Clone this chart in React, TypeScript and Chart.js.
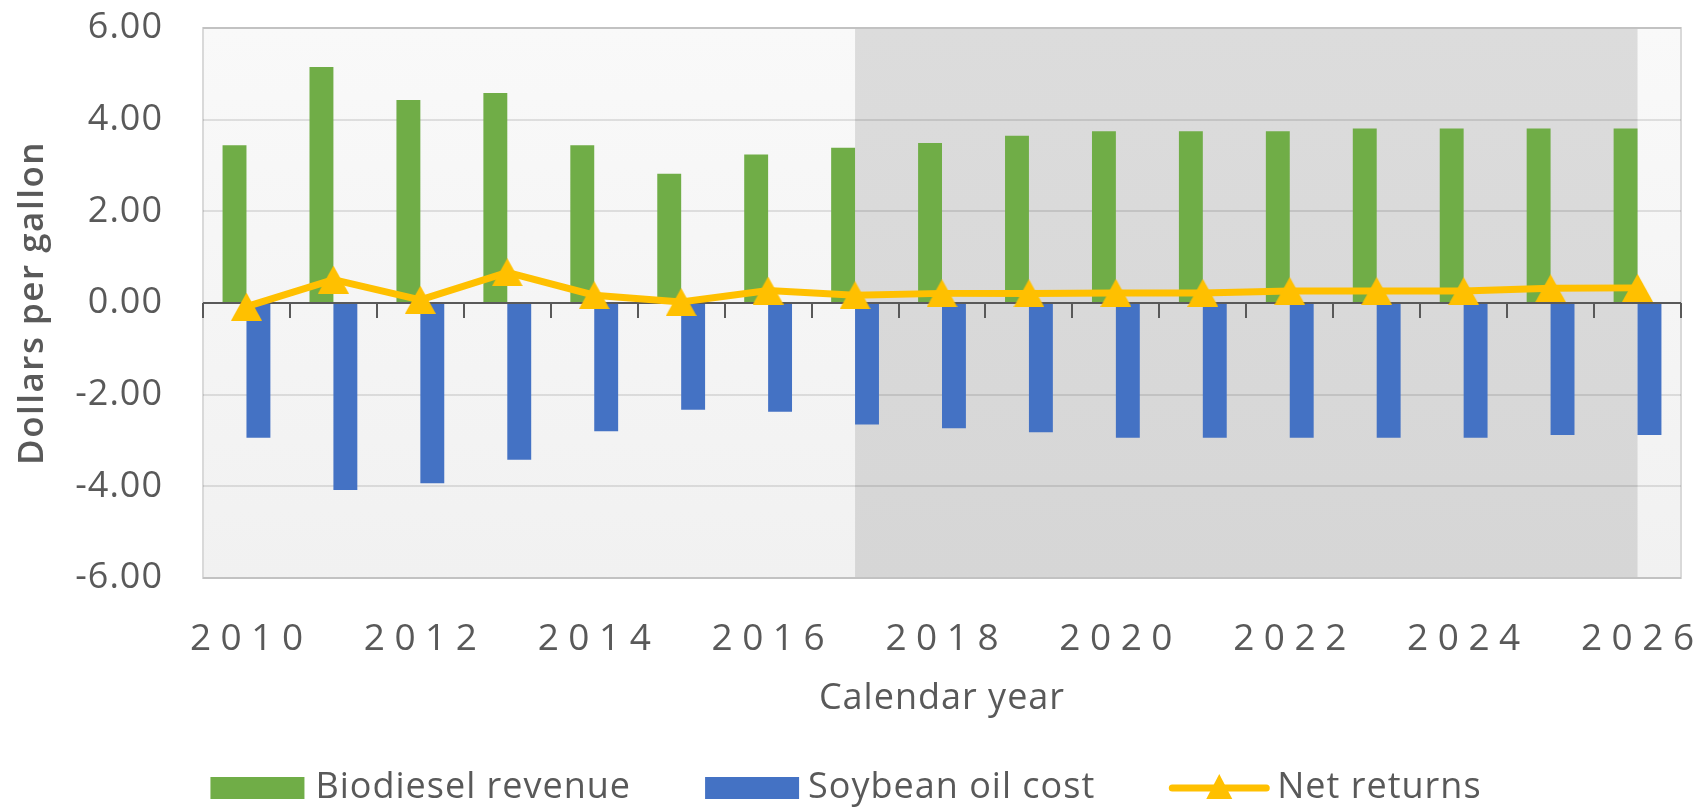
import React, { useEffect, useRef } from "react";
import { Chart, registerables } from "chart.js";

Chart.register(...registerables);

// ---------- data ----------
const years = [
  "2010", "2011", "2012", "2013", "2014", "2015", "2016", "2017", "2018",
  "2019", "2020", "2021", "2022", "2023", "2024", "2025", "2026",
];
const biodieselRevenue = [
  3.44, 5.15, 4.43, 4.58, 3.44, 2.82, 3.24, 3.39, 3.49,
  3.65, 3.75, 3.75, 3.75, 3.81, 3.81, 3.81, 3.81,
];
const soybeanOilCost = [
  -2.94, -4.08, -3.93, -3.42, -2.8, -2.33, -2.37, -2.65, -2.73,
  -2.82, -2.94, -2.94, -2.94, -2.94, -2.94, -2.88, -2.88,
];
const netReturns = [
  -0.08, 0.51, 0.07, 0.67, 0.17, 0.02, 0.27, 0.17, 0.21,
  0.21, 0.22, 0.22, 0.26, 0.26, 0.26, 0.32, 0.33,
];
const xTickLabels = ["2010", "2012", "2014", "2016", "2018", "2020", "2022", "2024", "2026"];
const yMin = -6;
const yMax = 6;
const yStep = 2;
const forecastStart = "2017";
const forecastEnd = "2026";
const seriesNames = ["Biodiesel revenue", "Soybean oil cost", "Net returns"];
const xTitle = "Calendar year";
const yTitle = "Dollars per gallon";

// ---------- style ----------
const GREEN = "#70ad47";
const BLUE = "#4472c4";
const GOLD = "#ffc000";
const TEXT = "#595959";
const FONT = "'Open Sans', 'Noto Sans', sans-serif";

function makeTriangle(w: number, h: number, color: string) {
  const c = document.createElement("canvas");
  c.width = w;
  c.height = h;
  const g = c.getContext("2d")!;
  g.fillStyle = color;
  g.beginPath();
  g.moveTo(0, h);
  g.lineTo(w / 2, 0);
  g.lineTo(w, h);
  g.closePath();
  g.fill();
  return c;
}

const decor = {
  id: "decor",
  beforeDraw(chart: any) {
    const { ctx, chartArea: a, scales } = chart;
    const x = scales.x;
    ctx.save();
    let g = ctx.createLinearGradient(0, a.top, 0, a.bottom);
    g.addColorStop(0, "#f9f9f9");
    g.addColorStop(1, "#f1f1f1");
    ctx.fillStyle = g;
    ctx.fillRect(a.left, a.top, a.right - a.left, a.bottom - a.top);
    const xs = x.getPixelForValue(years.indexOf(forecastStart));
    const xe = x.getPixelForValue(years.indexOf(forecastEnd));
    g = ctx.createLinearGradient(0, a.top, 0, a.bottom);
    g.addColorStop(0, "#dcdcdc");
    g.addColorStop(1, "#d6d6d6");
    ctx.fillStyle = g;
    ctx.fillRect(xs, a.top, xe - xs, a.bottom - a.top);
    ctx.strokeStyle = "#d9d9d9";
    ctx.lineWidth = 2;
    ctx.strokeRect(a.left, a.top, a.right - a.left, a.bottom - a.top);
    ctx.restore();
    ctx.letterSpacing = "1px";
  },
  beforeDatasetDraw(chart: any, args: any) {
    if (args.meta.type !== "line") return;
    const { ctx, chartArea: a, scales } = chart;
    const x = scales.x;
    const y = scales.y;
    const y0 = y.getPixelForValue(0);
    const step = x.getPixelForValue(1) - x.getPixelForValue(0);
    ctx.save();
    ctx.strokeStyle = TEXT;
    ctx.lineWidth = 2;
    ctx.beginPath();
    ctx.moveTo(a.left, y0);
    ctx.lineTo(a.right, y0);
    for (let i = 0; i <= years.length; i++) {
      const px = Math.round(x.getPixelForValue(0) + (i - 0.5) * step);
      ctx.moveTo(px, y0);
      ctx.lineTo(px, y0 + 15);
    }
    ctx.stroke();
    ctx.restore();
  },
  afterDraw(chart: any) {
    const { ctx, chartArea: a, scales } = chart;
    const x = scales.x;
    ctx.save();
    ctx.fillStyle = TEXT;

    // x tick labels (spaced digits)
    ctx.letterSpacing = "0px";
    ctx.font = `37px ${FONT}`;
    ctx.textBaseline = "alphabetic";
    ctx.textAlign = "left";
    const sp = 9.5;
    for (const lbl of xTickLabels) {
      const cx = x.getPixelForValue(years.indexOf(lbl));
      const ws = lbl.split("").map((ch) => ctx.measureText(ch).width);
      const total = ws.reduce((s, w) => s + w, 0) + sp * (ws.length - 1);
      let px = cx - total / 2;
      lbl.split("").forEach((ch, i) => {
        ctx.fillText(ch, px, 650);
        px += ws[i] + sp;
      });
    }

    // x title
    ctx.letterSpacing = "1px";
    ctx.font = `36px ${FONT}`;
    ctx.textAlign = "center";
    ctx.fillText(xTitle, (a.left + a.right) / 2, 709);

    // y title
    ctx.save();
    ctx.translate(43, (a.top + a.bottom) / 2);
    ctx.rotate(-Math.PI / 2);
    ctx.font = `600 35px ${FONT}`;
    ctx.letterSpacing = "1.5px";
    ctx.textAlign = "center";
    ctx.fillText(yTitle, 0, 0);
    ctx.restore();

    // legend
    ctx.font = `36px ${FONT}`;
    ctx.letterSpacing = "1px";
    ctx.textAlign = "left";
    const symW = [94, 94, 100];
    const gapText = [11, 9, 8];
    const itemGap = 74;
    const widths = seriesNames.map((n, i) => symW[i] + gapText[i] + ctx.measureText(n).width);
    const total = widths.reduce((s, w) => s + w, 0) + itemGap * (widths.length - 1);
    let lx = chart.width / 2 - 7 - total / 2;
    const cy = 788;
    seriesNames.forEach((n, i) => {
      if (i < 2) {
        ctx.fillStyle = i === 0 ? GREEN : BLUE;
        ctx.fillRect(lx, cy - 11, symW[i], 22);
      } else {
        ctx.strokeStyle = GOLD;
        ctx.lineWidth = 7;
        ctx.lineCap = "round";
        ctx.beginPath();
        ctx.moveTo(lx + 3, cy);
        ctx.lineTo(lx + symW[i] - 3, cy);
        ctx.stroke();
        ctx.fillStyle = GOLD;
        const tcx = lx + symW[i] / 2;
        ctx.beginPath();
        ctx.moveTo(tcx - 13, cy + 11);
        ctx.lineTo(tcx, cy - 14);
        ctx.lineTo(tcx + 13, cy + 11);
        ctx.closePath();
        ctx.fill();
      }
      ctx.fillStyle = TEXT;
      ctx.fillText(n, lx + symW[i] + gapText[i], 798);
      lx += widths[i] + itemGap;
    });
    ctx.restore();
  },
};

export default function App() {
  const ref = useRef<HTMLCanvasElement>(null);

  useEffect(() => {
    const tri = makeTriangle(31, 28, GOLD);
    const chart = new Chart(ref.current as HTMLCanvasElement, {
      type: "bar",
      data: {
        labels: years,
        datasets: [
          {
            type: "bar",
            label: seriesNames[0],
            data: biodieselRevenue,
            backgroundColor: GREEN,
            borderWidth: 0,
            categoryPercentage: 0.55,
            barPercentage: 1.0,
            order: 1,
          },
          {
            type: "bar",
            label: seriesNames[1],
            data: soybeanOilCost,
            backgroundColor: BLUE,
            borderWidth: 0,
            categoryPercentage: 0.55,
            barPercentage: 1.0,
            order: 1,
          },
          {
            type: "line",
            label: seriesNames[2],
            data: netReturns,
            borderColor: GOLD,
            backgroundColor: GOLD,
            borderWidth: 7,
            tension: 0,
            pointStyle: tri as any,
            pointRadius: 14,
            pointBorderWidth: 0,
            order: 0,
          } as any,
        ],
      },
      options: {
        responsive: true,
        maintainAspectRatio: false,
        animation: false,
        layout: { padding: { top: 28, right: 25, left: 0, bottom: 0 } },
        plugins: {
          legend: { display: false },
          tooltip: { enabled: false },
          title: { display: false },
        },
        scales: {
          x: {
            type: "category",
            offset: true,
            grid: { display: false },
            border: { display: false },
            ticks: { display: false },
            afterFit(scale: any) {
              scale.height = 229;
              scale.paddingLeft = 0;
              scale.paddingRight = 0;
            },
          },
          y: {
            min: yMin,
            max: yMax,
            border: { display: false },
            grid: { color: "rgba(0,0,0,0.1)", lineWidth: 2, drawTicks: false },
            ticks: {
              stepSize: yStep,
              padding: 40,
              color: TEXT,
              font: { family: FONT, size: 36 },
              callback: (v: any) => Number(v).toFixed(2),
            },
            afterFit(scale: any) {
              scale.width = 203;
              scale.paddingTop = 0;
              scale.paddingBottom = 0;
            },
          },
        },
      },
      plugins: [decor],
    });
    return () => chart.destroy();
  }, []);

  return (
    <div style={{ position: "fixed", left: 0, top: 0, width: 1706, height: 807, background: "#fff" }}>
      <canvas ref={ref} />
    </div>
  );
}
